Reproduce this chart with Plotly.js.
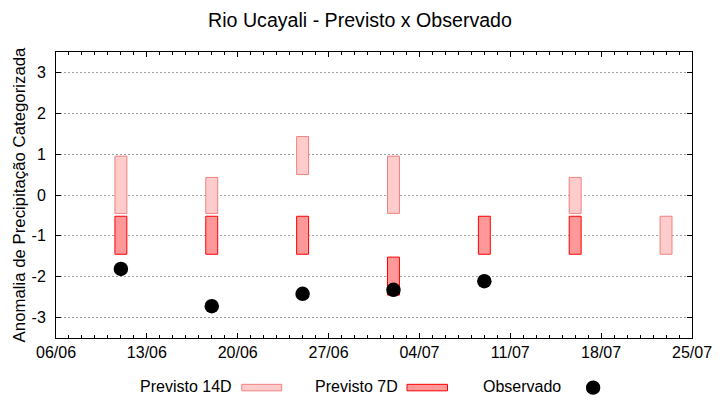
<!DOCTYPE html>
<html>
<head>
<meta charset="utf-8">
<script src="https://cdn.plot.ly/plotly-3.0.1.min.js"></script>
<style>html,body{margin:0;padding:0;background:#fff;}#chart{width:720px;height:400px;}</style>
</head>
<body>
<div id="chart"></div>
<script>
// ---- data ----
var dates = ["2018-06-11","2018-06-18","2018-06-25","2018-07-02","2018-07-09","2018-07-16","2018-07-23"];
var prev14Low  = [-0.45, -0.45, 0.50, -0.45, null, -0.45, -1.45];
var prev14High = [ 0.95,  0.43, 1.43,  0.95, null,  0.43, -0.52];
var prev7Low   = [-1.45, -1.45, -1.45, -2.45, -1.45, -1.45, null];
var prev7High  = [-0.52, -0.52, -0.52, -1.52, -0.52, -0.52, null];
var obsDates   = ["2018-06-11","2018-06-18","2018-06-25","2018-07-02","2018-07-09"];
var obsValues  = [-1.81, -2.72, -2.42, -2.32, -2.11];
var yTicks = [-3, -2, -1, 0, 1, 2, 3];

var DAY = 86400000;
function span(lo, hi){ return lo.map(function(v,i){ return (v===null||hi[i]===null)?null:hi[i]-v; }); }

var fontFam = "Liberation Sans, Arial, sans-serif";

var traces = [
  {type:'bar', name:'Previsto 14D', x:dates, base:prev14Low, y:span(prev14Low,prev14High),
   width:0.92*DAY, marker:{color:'#ffcccc', line:{color:'#f08080', width:1}}, hoverinfo:'skip', showlegend:false},
  {type:'bar', name:'Previsto 7D', x:dates, base:prev7Low, y:span(prev7Low,prev7High),
   width:0.92*DAY, marker:{color:'#ff9999', line:{color:'#ff0000', width:1}}, hoverinfo:'skip', showlegend:false},
  {type:'scatter', mode:'markers', name:'Observado', x:obsDates, y:obsValues,
   marker:{color:'#000', size:14.5}, showlegend:false}
];

// plot area in pixels
var L = 55.5, R = 692.3, T = 51.5, B = 338.5;
function px(x){ return (x - L)/(R - L); }
function py(y){ return (B - y)/(B - T); }

var legendY = 387;
var annotations = [
  {text:'Previsto 14D', x:px(233.5), y:py(legendY), xanchor:'right', yanchor:'middle'},
  {text:'Previsto 7D',  x:px(399.5), y:py(legendY), xanchor:'right', yanchor:'middle'},
  {text:'Observado',    x:px(563.5), y:py(legendY), xanchor:'right', yanchor:'middle'}
].map(function(a){ a.xref='paper'; a.yref='paper'; a.showarrow=false; a.font={family:fontFam,size:16,color:'#000'}; return a; });

var shapes = [
  {type:'rect', xref:'paper', yref:'paper', x0:px(241.5), x1:px(281.5), y0:py(391.5), y1:py(385),
   fillcolor:'#ffcccc', line:{color:'#f08080', width:1}},
  {type:'rect', xref:'paper', yref:'paper', x0:px(407), x1:px(447.5), y0:py(391.5), y1:py(385),
   fillcolor:'#ff9999', line:{color:'#ff0000', width:1}},
  {type:'circle', xref:'paper', yref:'paper', x0:px(586.1), x1:px(600.5), y0:py(395.5), y1:py(381.1),
   fillcolor:'#000', line:{color:'#000', width:0}}
];

var layout = {
  width:720, height:400,
  margin:{l:L, r:720-R, t:T, b:400-B, pad:0},
  paper_bgcolor:'#fff', plot_bgcolor:'#fff',
  font:{family:fontFam, size:16, color:'#000'},
  title:{text:'Rio Ucayali - Previsto x Observado', font:{family:fontFam, size:19.6, color:'#000'},
         x:0.5, xanchor:'center', xref:'container', y:1-20/400, yanchor:'middle', yref:'container'},
  showlegend:false,
  barmode:'overlay',
  xaxis:{type:'date', range:['2018-06-06','2018-07-25'], tick0:'2018-06-06', dtick:7*DAY,
         tickformat:'%d/%m', ticks:'inside', ticklen:5, tickcolor:'#000', showline:true, linecolor:'#000',
         linewidth:1, mirror:'ticks', showgrid:false, zeroline:false,
         minor:{dtick:DAY, tick0:'2018-06-06', ticks:'inside', ticklen:3, tickcolor:'#000', showgrid:false},
         tickfont:{family:fontFam, size:16, color:'#000'}},
  yaxis:{range:[-3.5,3.5], tickvals:yTicks, ticktext:yTicks.map(String), ticks:'inside', ticklen:5,
         tickcolor:'#000', showline:true, linecolor:'#000', linewidth:1, mirror:'ticks',
         showgrid:true, gridcolor:'#a0a0a0', gridwidth:1, griddash:'2px,2px', zeroline:false,
         ticklabelstandoff:6,
         title:{text:'Anomalia de Precipitação Categorizada', font:{family:fontFam, size:16.8, color:'#000'}, standoff:1},
         tickfont:{family:fontFam, size:16, color:'#000'}},
  annotations:annotations,
  shapes:shapes
};

Plotly.newPlot('chart', traces, layout, {displayModeBar:false, staticPlot:true});
</script>
</body>
</html>
